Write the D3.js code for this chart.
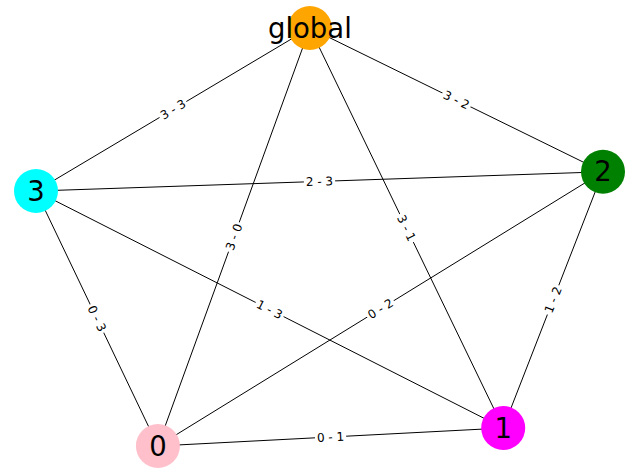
<!DOCTYPE html>
<html><head><meta charset="utf-8">
<script src="https://cdn.jsdelivr.net/npm/d3@7"></script>
<style>body{margin:0;background:#fff}</style></head>
<body><svg id="c" width="640" height="476"></svg>
<script>
const nodes = ["global","2","3","0","1"];
const nodeColors = ["orange","green","cyan","pink","magenta"];
const posX = [0.483,1,0,0.215,0.824];
const posY = [1,0.656,0.610,0,0.043];
const edgeSource = ["global","global","global","global","3","3","3","0","2","0"];
const edgeTarget = ["3","2","0","1","2","0","1","2","1","1"];
const edgeLabels = ["3 - 3","3 - 2","3 - 0","3 - 1","2 - 3","0 - 3","1 - 3","0 - 2","1 - 2","0 - 1"];

const svg = d3.select("#c");
const x = d3.scaleLinear().domain([0,1]).range([36,603]);
const y = d3.scaleLinear().domain([0,1]).range([446,28]);
const P = {};
nodes.forEach((n,i)=>P[n]=[x(posX[i]),y(posY[i])]);

edgeSource.forEach((s,i)=>{
  const a=P[s], b=P[edgeTarget[i]];
  svg.append("line").attr("x1",a[0]).attr("y1",a[1]).attr("x2",b[0]).attr("y2",b[1])
    .attr("stroke","#000").attr("stroke-width",1);
});
edgeSource.forEach((s,i)=>{
  const a=P[s], b=P[edgeTarget[i]];
  const mx=(a[0]+b[0])/2, my=(a[1]+b[1])/2;
  let ang=Math.atan2(b[1]-a[1],b[0]-a[0])*180/Math.PI;
  if(ang>90) ang-=180; if(ang<-90) ang+=180;
  const g=svg.append("g").attr("transform",`translate(${mx},${my}) rotate(${ang})`);
  const t=g.append("text").text(edgeLabels[i]).attr("text-anchor","middle").attr("dy","0.35em")
    .attr("font-family","DejaVu Sans").attr("font-size",12);
  const bb=t.node().getBBox();
  g.insert("rect","text").attr("x",bb.x-2).attr("y",bb.y-1).attr("width",bb.width+4).attr("height",bb.height+2).attr("fill","#fff");
});
nodes.forEach((n,i)=>{
  svg.append("circle").attr("cx",P[n][0]).attr("cy",P[n][1]).attr("r",22).attr("fill",nodeColors[i]);
  svg.append("text").text(n).attr("x",P[n][0]).attr("y",P[n][1]).attr("dy","0.35em")
    .attr("text-anchor","middle").attr("font-family","DejaVu Sans").attr("font-size",27.5);
});
</script></body></html>
